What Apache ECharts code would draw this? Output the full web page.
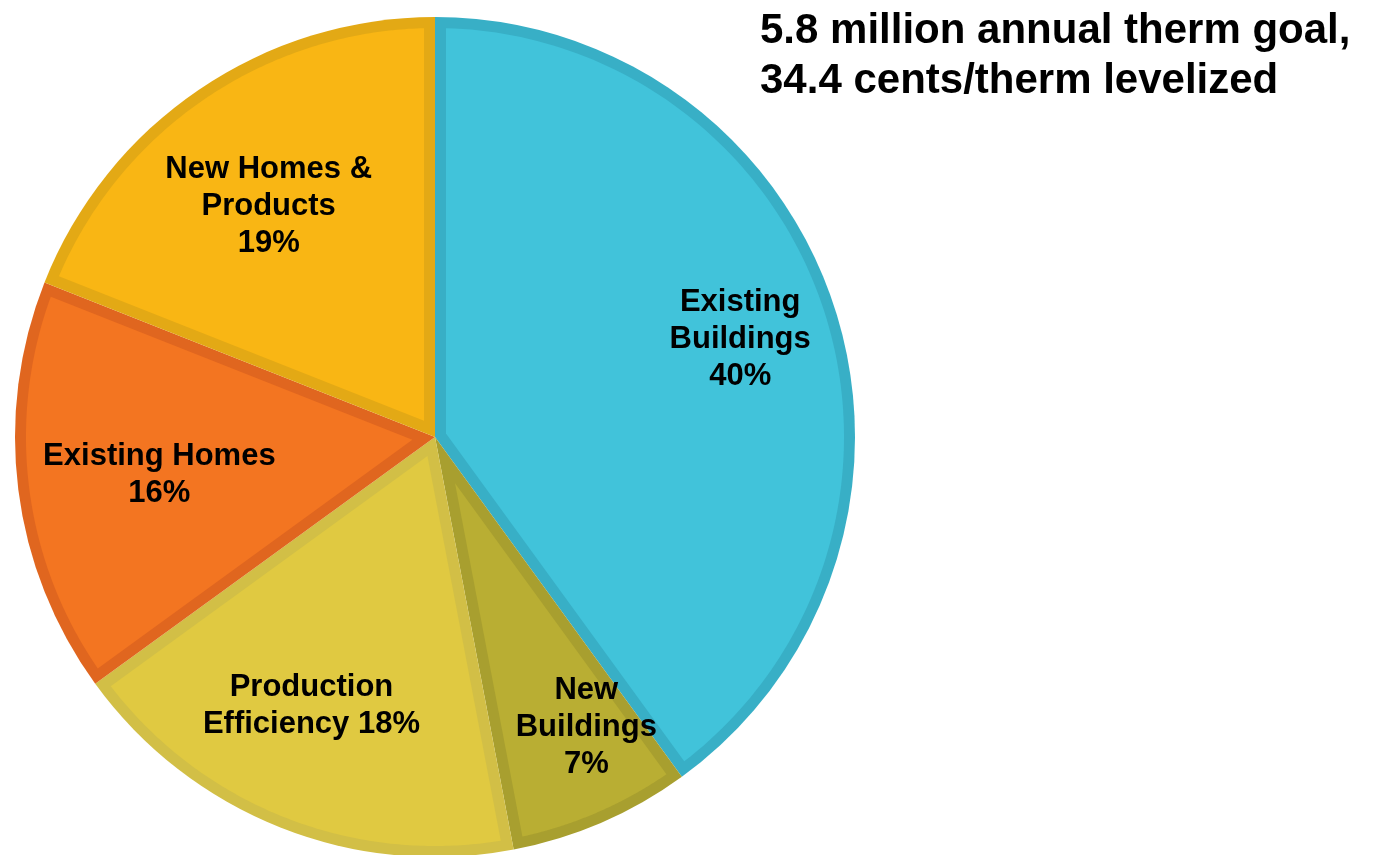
<!DOCTYPE html>
<html>
<head>
<meta charset="utf-8">
<title>Therm savings by program</title>
<script src="https://cdn.jsdelivr.net/npm/echarts@6/dist/echarts.min.js"></script>
<style>
  html, body { margin: 0; padding: 0; background: #ffffff; }
  #chart { width: 1375px; height: 855px; }
</style>
</head>
<body>
<div id="chart"></div>
<script>
// Share of the annual therm goal by program (percent)
const categories = ['Existing Buildings', 'New Buildings', 'Production Efficiency', 'Existing Homes', 'New Homes & Products'];
const shares = [40, 7, 18, 16, 19];

// How each slice label is broken onto lines (name part, then the value)
const labelLines = [
  ['Existing', 'Buildings'],
  ['New', 'Buildings'],
  ['Production', 'Efficiency'],
  ['Existing Homes'],
  ['New Homes &', 'Products']
];
const valueOnOwnLine = [true, true, false, true, true];

// Fill and rim shades per slice
const fillColors = ['#41C3DA', '#B9AE33', '#E0C941', '#F37521', '#F9B614'];
const edgeColors = ['#38AFC6', '#A89F2F', '#D2BF46', '#E0661F', '#E3A915'];

// Small label nudges so each label sits where it reads best inside its slice
const labelNudge = [[17, -4], [31, 12], [-12, -13], [25, 0], [4, 20]];

const center = [435, 437];
const outerR = 420;
const rim = 11;

const total = shares.reduce((a, b) => a + b, 0);
const startAt = shares.map((v, i) => shares.slice(0, i).reduce((a, b) => a + b, 0));

// Lighter body of a slice: the slice shrunk inward by the rim width on every side
function insetSlice(params, api) {
  const i = params.dataIndex;
  const a0 = startAt[i] / total * Math.PI * 2;
  const a1 = (startAt[i] + shares[i]) / total * Math.PI * 2;
  const half = (a1 - a0) / 2;
  const mid = (a0 + a1) / 2;
  const r = outerR - rim;
  const delta = Math.asin(rim / r);
  const pt = (ang, rad) => [center[0] + rad * Math.sin(ang), center[1] - rad * Math.cos(ang)];
  const pts = [pt(mid, rim / Math.sin(half))];
  const from = a0 + delta, to = a1 - delta;
  const steps = 120;
  for (let k = 0; k <= steps; k++) {
    pts.push(pt(from + (to - from) * k / steps, r));
  }
  return {
    type: 'polygon',
    z2: 10,
    shape: { points: pts },
    style: { fill: fillColors[i], stroke: null, lineWidth: 0 }
  };
}

const chart = echarts.init(document.getElementById('chart'), null, { renderer: 'canvas' });

chart.setOption({
  animation: false,
  backgroundColor: '#ffffff',
  title: {
    text: '5.8 million annual therm goal,\n34.4 cents/therm levelized',
    left: 755,
    top: 1,
    textStyle: {
      fontFamily: '"Liberation Sans", Arial, sans-serif',
      fontWeight: 'bold',
      fontSize: 42,
      lineHeight: 50,
      color: '#000000'
    }
  },
  series: [
    {
      // full slices in the rim shade
      type: 'pie',
      center: center,
      radius: [0, outerR],
      startAngle: 90,
      clockwise: true,
      silent: true,
      z: 1,
      label: { show: false },
      labelLine: { show: false },
      emphasis: { disabled: true },
      itemStyle: { borderWidth: 0 },
      data: categories.map((name, i) => ({
        name: name,
        value: shares[i],
        itemStyle: { color: edgeColors[i] }
      }))
    },
    {
      type: 'custom',
      coordinateSystem: 'none',
      silent: true,
      z: 3,
      renderItem: insetSlice,
      data: shares.map((v, i) => [i, v])
    },
    {
      // slice labels
      type: 'pie',
      center: center,
      radius: [180, outerR],
      startAngle: 90,
      clockwise: true,
      silent: true,
      z: 5,
      emphasis: { disabled: true },
      labelLine: { show: false },
      itemStyle: { color: 'rgba(0,0,0,0)', borderWidth: 0 },
      label: {
        show: true,
        position: 'inside',
        fontFamily: '"Liberation Sans", Arial, sans-serif',
        fontWeight: 'bold',
        fontSize: 31,
        lineHeight: 37,
        color: '#000000',
        align: 'center'
      },
      data: categories.map((name, i) => {
        const lines = labelLines[i].slice();
        const pct = shares[i] + '%';
        if (valueOnOwnLine[i]) lines.push(pct);
        else lines[lines.length - 1] += ' ' + pct;
        return {
          name: name,
          value: shares[i],
          label: { formatter: lines.join('\n'), offset: labelNudge[i] }
        };
      })
    }
  ]
});
</script>
</body>
</html>
